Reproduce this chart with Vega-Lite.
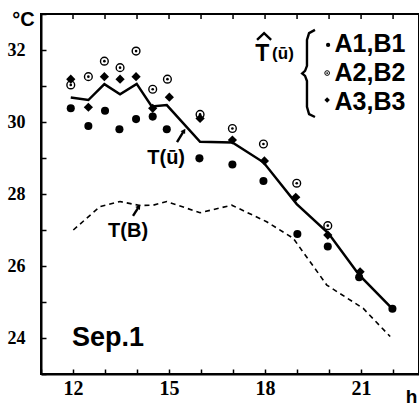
{
  "$schema": "https://vega.github.io/schema/vega-lite/v6.json",
  "width": 378,
  "height": 360,
  "autosize": "none",
  "padding": {"left": 41, "top": 14, "right": 0, "bottom": 31},
  "background": "white",
  "config": {
    "view": {"stroke": "black", "strokeWidth": 2},
    "font": "Liberation Sans",
    "axis": {
      "domainColor": "black", "domainWidth": 2, "tickColor": "black", "tickWidth": 1.5,
      "grid": false, "labelColor": "black", "labelFont": "Liberation Sans Narrow", "labelOverlap": false,
      "labelFontWeight": "bold", "titleColor": "black", "titleFont": "Liberation Sans", "titleFontWeight": "bold"
    }
  },
  "datasets": {
    "lines": [
      {"line": "T(ū)", "t": 11.93, "v": 30.68}, {"line": "T(ū)", "t": 12.48, "v": 30.61}, {"line": "T(ū)", "t": 12.98, "v": 31.05},
      {"line": "T(ū)", "t": 13.47, "v": 30.77}, {"line": "T(ū)", "t": 13.99, "v": 31.06}, {"line": "T(ū)", "t": 14.46, "v": 30.43},
      {"line": "T(ū)", "t": 14.93, "v": 30.47}, {"line": "T(ū)", "t": 15.97, "v": 29.45}, {"line": "T(ū)", "t": 16.98, "v": 29.43},
      {"line": "T(ū)", "t": 17.95, "v": 28.88}, {"line": "T(ū)", "t": 18.99, "v": 27.72}, {"line": "T(ū)", "t": 19.98, "v": 26.91},
      {"line": "T(ū)", "t": 20.94, "v": 25.75}, {"line": "T(ū)", "t": 21.98, "v": 24.81},
      {"line": "T(B)", "t": 12.01, "v": 27.0}, {"line": "T(B)", "t": 12.84, "v": 27.65}, {"line": "T(B)", "t": 13.47, "v": 27.79},
      {"line": "T(B)", "t": 14.09, "v": 27.68}, {"line": "T(B)", "t": 14.51, "v": 27.69}, {"line": "T(B)", "t": 14.93, "v": 27.79},
      {"line": "T(B)", "t": 15.97, "v": 27.48}, {"line": "T(B)", "t": 16.96, "v": 27.69}, {"line": "T(B)", "t": 18.05, "v": 27.23},
      {"line": "T(B)", "t": 18.88, "v": 26.77}, {"line": "T(B)", "t": 19.93, "v": 25.47}, {"line": "T(B)", "t": 21.07, "v": 24.82},
      {"line": "T(B)", "t": 21.91, "v": 24.04}
    ],
    "pts": [
      {"s": "A1,B1", "t": 11.93, "v": 30.38}, {"s": "A1,B1", "t": 12.48, "v": 29.89}, {"s": "A1,B1", "t": 13.0, "v": 30.31},
      {"s": "A1,B1", "t": 13.45, "v": 29.8}, {"s": "A1,B1", "t": 13.97, "v": 30.08}, {"s": "A1,B1", "t": 14.49, "v": 30.15},
      {"s": "A1,B1", "t": 14.93, "v": 29.8}, {"s": "A1,B1", "t": 15.95, "v": 28.99}, {"s": "A1,B1", "t": 16.98, "v": 28.82},
      {"s": "A1,B1", "t": 17.95, "v": 28.36}, {"s": "A1,B1", "t": 19.01, "v": 26.89}, {"s": "A1,B1", "t": 19.96, "v": 26.54},
      {"s": "A1,B1", "t": 20.94, "v": 25.69}, {"s": "A1,B1", "t": 21.98, "v": 24.81},
      {"s": "A2,B2", "t": 11.93, "v": 31.03}, {"s": "A2,B2", "t": 12.48, "v": 31.26}, {"s": "A2,B2", "t": 12.98, "v": 31.69},
      {"s": "A2,B2", "t": 13.47, "v": 31.51}, {"s": "A2,B2", "t": 13.97, "v": 31.97}, {"s": "A2,B2", "t": 14.49, "v": 30.91},
      {"s": "A2,B2", "t": 14.95, "v": 31.19}, {"s": "A2,B2", "t": 15.97, "v": 30.21}, {"s": "A2,B2", "t": 16.98, "v": 29.82},
      {"s": "A2,B2", "t": 17.95, "v": 29.39}, {"s": "A2,B2", "t": 18.99, "v": 28.3}, {"s": "A2,B2", "t": 19.96, "v": 27.12},
      {"s": "A3,B3", "t": 11.93, "v": 31.19}, {"s": "A3,B3", "t": 12.48, "v": 30.41}, {"s": "A3,B3", "t": 12.98, "v": 31.26},
      {"s": "A3,B3", "t": 13.47, "v": 31.19}, {"s": "A3,B3", "t": 13.97, "v": 31.26}, {"s": "A3,B3", "t": 14.49, "v": 30.38},
      {"s": "A3,B3", "t": 15.01, "v": 30.69}, {"s": "A3,B3", "t": 15.97, "v": 30.1}, {"s": "A3,B3", "t": 16.98, "v": 29.5},
      {"s": "A3,B3", "t": 17.98, "v": 28.92}, {"s": "A3,B3", "t": 18.96, "v": 27.91}, {"s": "A3,B3", "t": 19.96, "v": 26.86},
      {"s": "A3,B3", "t": 20.97, "v": 25.84}
    ],
    "hours": [{"t": 12}, {"t": 13}, {"t": 14}, {"t": 15}, {"t": 16}, {"t": 17}, {"t": 18}, {"t": 19}, {"t": 20}, {"t": 21}, {"t": 22}],
    "shapes": [
      {"g": "brace", "o": 1, "t": 19.56, "v": 32.56}, {"g": "brace", "o": 2, "t": 19.375, "v": 32.47}, {"g": "brace", "o": 3, "t": 19.31, "v": 32.28},
      {"g": "brace", "o": 4, "t": 19.31, "v": 31.56}, {"g": "brace", "o": 5, "t": 19.25, "v": 31.42}, {"g": "brace", "o": 6, "t": 19.16, "v": 31.35},
      {"g": "brace", "o": 7, "t": 19.25, "v": 31.28}, {"g": "brace", "o": 8, "t": 19.31, "v": 31.14}, {"g": "brace", "o": 9, "t": 19.31, "v": 30.42},
      {"g": "brace", "o": 10, "t": 19.375, "v": 30.22}, {"g": "brace", "o": 11, "t": 19.56, "v": 30.14},
      {"g": "hat", "o": 1, "t": 17.75, "v": 32.28}, {"g": "hat", "o": 2, "t": 17.97, "v": 32.47}, {"g": "hat", "o": 3, "t": 18.19, "v": 32.28},
      {"g": "arr1", "o": 1, "t": 15.25, "v": 29.44}, {"g": "arr1", "o": 2, "t": 15.44, "v": 29.72},
      {"g": "arr2", "o": 1, "t": 13.875, "v": 27.39}, {"g": "arr2", "o": 2, "t": 14.03, "v": 27.61}
    ],
    "heads": [{"t": 15.47, "v": 29.76}, {"t": 14.06, "v": 27.65}],
    "notes": [{"t": 14.91, "v": 29.0, "label": "T(ū)"}, {"t": 13.72, "v": 26.97, "label": "T(B)"}],
    "sep": [{"t": 11.97, "v": 24.0, "label": "Sep.1"}],
    "legT": [{"t": 17.69, "v": 31.9, "label": "T"}],
    "legU": [{"t": 18.22, "v": 31.89, "label": "(ū)"}],
    "legE": [{"t": 20.17, "v": 32.18, "label": "A1,B1"}, {"t": 20.17, "v": 31.35, "label": "A2,B2"}, {"t": 20.17, "v": 30.56, "label": "A3,B3"}],
    "legM": [{"s": "A1,B1", "t": 19.97, "v": 32.14}, {"s": "A2,B2", "t": 19.94, "v": 31.36}, {"s": "A3,B3", "t": 19.94, "v": 30.61}]
  },
  "layer": [
    {
      "data": {"name": "lines"},
      "transform": [{"filter": "datum.line == 'T(B)'"}],
      "mark": {"type": "line", "color": "black", "strokeWidth": 1.6, "strokeDash": [5, 4]},
      "encoding": {
        "x": {"field": "t", "type": "quantitative", "scale": {"domain": [11, 22.81], "nice": false, "zero": false},
          "axis": {"orient": "bottom", "values": [11, 12, 13, 14, 15, 16, 17, 18, 19, 20, 21, 22], "labelOverlap": false,
            "labelExpr": "datum.value % 3 == 0 ? datum.label : ''", "tickSize": -5, "labelPadding": 9,
            "labelFontSize": 20, "title": "h", "titleX": 370, "titleY": 28, "titleAlign": "center",
            "titleBaseline": "alphabetic", "titleFontSize": 19}},
        "y": {"field": "v", "type": "quantitative", "scale": {"domain": [23, 33], "nice": false, "zero": false},
          "axis": {"orient": "left", "values": [23, 24, 25, 26, 27, 28, 29, 30, 31, 32, 33], "labelOverlap": false,
            "labelExpr": "datum.value % 2 == 0 && datum.value < 33 ? datum.label : ''", "tickSize": -5, "labelPadding": 21,
            "labelFontSize": 18, "title": "°C", "titleAngle": 0, "titleX": -18, "titleY": 11, "titleAlign": "center",
            "titleBaseline": "alphabetic", "titleFontSize": 20}}
      }
    },
    {
      "data": {"name": "hours"},
      "mark": {"type": "rule", "color": "black", "strokeWidth": 1.5},
      "encoding": {"x": {"field": "t", "type": "quantitative", "axis": null},
        "y": {"datum": 33, "type": "quantitative", "axis": null}, "y2": {"datum": 32.86}}
    },
    {
      "data": {"name": "lines"},
      "transform": [{"filter": "datum.line == 'T(ū)'"}],
      "mark": {"type": "line", "color": "black", "strokeWidth": 2.5},
      "encoding": {"x": {"field": "t", "type": "quantitative", "axis": null}, "y": {"field": "v", "type": "quantitative", "axis": null}}
    },
    {
      "data": {"name": "pts"},
      "transform": [{"filter": "datum.s == 'A1,B1'"}],
      "mark": {"type": "point", "shape": "circle", "filled": true, "color": "black", "opacity": 1, "size": 65},
      "encoding": {"x": {"field": "t", "type": "quantitative", "axis": null}, "y": {"field": "v", "type": "quantitative", "axis": null}}
    },
    {
      "data": {"name": "pts"},
      "transform": [{"filter": "datum.s == 'A2,B2'"}],
      "mark": {"type": "point", "shape": "circle", "filled": false, "fill": "white", "fillOpacity": 1, "stroke": "black", "strokeWidth": 1.4, "opacity": 1, "size": 60},
      "encoding": {"x": {"field": "t", "type": "quantitative", "axis": null}, "y": {"field": "v", "type": "quantitative", "axis": null}}
    },
    {
      "data": {"name": "pts"},
      "transform": [{"filter": "datum.s == 'A2,B2'"}],
      "mark": {"type": "point", "shape": "circle", "filled": true, "color": "black", "opacity": 1, "size": 7},
      "encoding": {"x": {"field": "t", "type": "quantitative", "axis": null}, "y": {"field": "v", "type": "quantitative", "axis": null}}
    },
    {
      "data": {"name": "pts"},
      "transform": [{"filter": "datum.s == 'A3,B3'"}],
      "mark": {"type": "point", "shape": "diamond", "filled": true, "color": "black", "opacity": 1, "size": 85},
      "encoding": {"x": {"field": "t", "type": "quantitative", "axis": null}, "y": {"field": "v", "type": "quantitative", "axis": null}}
    },
    {
      "data": {"name": "shapes"},
      "mark": {"type": "line", "color": "black", "strokeWidth": 2.4},
      "encoding": {"x": {"field": "t", "type": "quantitative", "axis": null}, "y": {"field": "v", "type": "quantitative", "axis": null},
        "detail": {"field": "g"}, "order": {"field": "o"}}
    },
    {
      "data": {"name": "heads"},
      "mark": {"type": "point", "shape": "triangle-up", "filled": true, "color": "black", "opacity": 1, "size": 30, "angle": 33},
      "encoding": {"x": {"field": "t", "type": "quantitative", "axis": null}, "y": {"field": "v", "type": "quantitative", "axis": null}}
    },
    {
      "data": {"name": "notes"},
      "mark": {"type": "text", "font": "Liberation Sans", "fontWeight": "bold", "fontSize": 20, "align": "center", "baseline": "middle", "color": "black"},
      "encoding": {"x": {"field": "t", "type": "quantitative", "axis": null}, "y": {"field": "v", "type": "quantitative", "axis": null}, "text": {"field": "label"}}
    },
    {
      "data": {"name": "sep"},
      "mark": {"type": "text", "font": "Liberation Sans", "fontWeight": "bold", "fontSize": 27, "align": "left", "baseline": "middle", "color": "black"},
      "encoding": {"x": {"field": "t", "type": "quantitative", "axis": null}, "y": {"field": "v", "type": "quantitative", "axis": null}, "text": {"field": "label"}}
    },
    {
      "data": {"name": "legT"},
      "mark": {"type": "text", "font": "Liberation Sans", "fontWeight": "bold", "fontSize": 23, "align": "left", "baseline": "middle", "color": "black"},
      "encoding": {"x": {"field": "t", "type": "quantitative", "axis": null}, "y": {"field": "v", "type": "quantitative", "axis": null}, "text": {"field": "label"}}
    },
    {
      "data": {"name": "legU"},
      "mark": {"type": "text", "font": "Liberation Sans", "fontWeight": "bold", "fontSize": 17, "align": "left", "baseline": "middle", "color": "black"},
      "encoding": {"x": {"field": "t", "type": "quantitative", "axis": null}, "y": {"field": "v", "type": "quantitative", "axis": null}, "text": {"field": "label"}}
    },
    {
      "data": {"name": "legE"},
      "mark": {"type": "text", "font": "Liberation Sans", "fontWeight": "bold", "fontSize": 25, "align": "left", "baseline": "middle", "color": "black"},
      "encoding": {"x": {"field": "t", "type": "quantitative", "axis": null}, "y": {"field": "v", "type": "quantitative", "axis": null}, "text": {"field": "label"}}
    },
    {
      "data": {"name": "legM"},
      "transform": [{"filter": "datum.s == 'A1,B1'"}],
      "mark": {"type": "point", "shape": "circle", "filled": true, "color": "black", "opacity": 1, "size": 18},
      "encoding": {"x": {"field": "t", "type": "quantitative", "axis": null}, "y": {"field": "v", "type": "quantitative", "axis": null}}
    },
    {
      "data": {"name": "legM"},
      "transform": [{"filter": "datum.s == 'A2,B2'"}],
      "mark": {"type": "point", "shape": "circle", "filled": false, "stroke": "black", "strokeWidth": 1, "opacity": 1, "size": 22},
      "encoding": {"x": {"field": "t", "type": "quantitative", "axis": null}, "y": {"field": "v", "type": "quantitative", "axis": null}}
    },
    {
      "data": {"name": "legM"},
      "transform": [{"filter": "datum.s == 'A2,B2'"}],
      "mark": {"type": "point", "shape": "circle", "filled": true, "color": "black", "opacity": 1, "size": 3},
      "encoding": {"x": {"field": "t", "type": "quantitative", "axis": null}, "y": {"field": "v", "type": "quantitative", "axis": null}}
    },
    {
      "data": {"name": "legM"},
      "transform": [{"filter": "datum.s == 'A3,B3'"}],
      "mark": {"type": "point", "shape": "diamond", "filled": true, "color": "black", "opacity": 1, "size": 30},
      "encoding": {"x": {"field": "t", "type": "quantitative", "axis": null}, "y": {"field": "v", "type": "quantitative", "axis": null}}
    }
  ],
  "resolve": {"axis": {"x": "independent", "y": "independent"}}
}
